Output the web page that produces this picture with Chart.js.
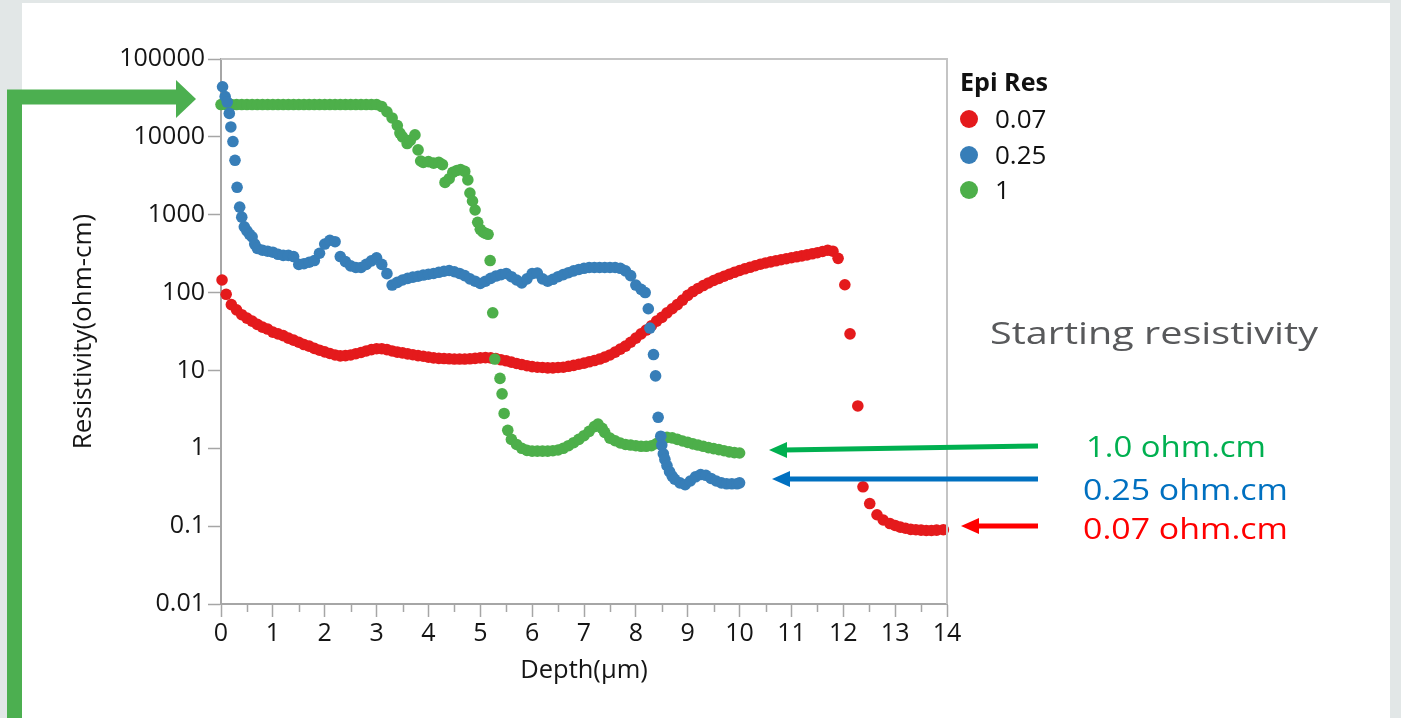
<!DOCTYPE html>
<html>
<head>
<meta charset="utf-8">
<script src="https://cdn.jsdelivr.net/npm/chart.js@4.4.1/dist/chart.umd.min.js"></script>
<style>
  html, body { margin: 0; padding: 0; }
  body { width: 1401px; height: 718px; background: #e2e7e7; position: relative; overflow: hidden; }
  #panel { position: absolute; left: 22px; top: 3px; width: 1368px; height: 715px; background: #fff; }
  #chartBox { position: absolute; left: 0; top: 0; width: 1000px; height: 718px; }
  #overlay { position: absolute; left: 0; top: 0; pointer-events: none; }
</style>
</head>
<body>
<div id="panel"></div>
<div id="chartBox"><canvas id="resChart" width="1000" height="718"></canvas></div>
<svg id="overlay" width="1401" height="718" xmlns="http://www.w3.org/2000/svg">
  <!-- legend -->
  <text x="960" y="91" font-family="Open Sans" font-weight="700" font-size="25" fill="#111" textLength="88" lengthAdjust="spacingAndGlyphs">Epi Res</text>
  <circle cx="969" cy="119" r="9" fill="#e41a1c"/>
  <text x="995" y="128" font-family="Open Sans" font-size="26" fill="#111">0.07</text>
  <circle cx="969" cy="155" r="9" fill="#377eb8"/>
  <text x="995" y="164" font-family="Open Sans" font-size="26" fill="#111">0.25</text>
  <circle cx="969" cy="190" r="9" fill="#4daf4a"/>
  <text x="995" y="199" font-family="Open Sans" font-size="26" fill="#111">1</text>

  <!-- starting resistivity arrow on the left -->
  <polyline points="14.5,718 14.5,97 178,97" fill="none" stroke="#4caf50" stroke-width="15" stroke-linejoin="miter"/>
  <polygon points="176,80 196,99 176,118" fill="#4caf50"/>

  <text x="990" y="344" font-family="Open Sans" font-size="31" fill="#58595b" textLength="328" lengthAdjust="spacingAndGlyphs">Starting resistivity</text>

  <!-- right side arrows and labels -->
  <line x1="1038" y1="446" x2="784" y2="450" stroke="#00b050" stroke-width="5"/>
  <polygon points="769,450 787,442 787,458" fill="#00b050"/>
  <line x1="1038" y1="479" x2="788" y2="479" stroke="#0070c0" stroke-width="5"/>
  <polygon points="772,479 790,471 790,487" fill="#0070c0"/>
  <line x1="1038" y1="526" x2="976" y2="526" stroke="#ff0000" stroke-width="5"/>
  <polygon points="961,526 979,518 979,534" fill="#ff0000"/>

  <text x="1086" y="457" font-family="Open Sans" font-size="29" fill="#00b050" textLength="180" lengthAdjust="spacingAndGlyphs">1.0 ohm.cm</text>
  <text x="1083" y="500" font-family="Open Sans" font-size="29" fill="#0070c0" textLength="205" lengthAdjust="spacingAndGlyphs">0.25 ohm.cm</text>
  <text x="1083" y="539" font-family="Open Sans" font-size="29" fill="#ff0000" textLength="205" lengthAdjust="spacingAndGlyphs">0.07 ohm.cm</text>
</svg>

<script>
// [depth (um), resistivity (ohm-cm)]
const red007 = [
    [0.02,145],[0.1,95],[0.2,70],[0.3,60],[0.4,52],[0.5,47],[0.6,43],[0.7,39],[0.8,36],[0.9,34],
    [1.0,31],[1.1,29.5],[1.2,28],[1.3,26],[1.4,24.5],[1.5,23],[1.6,21.5],[1.7,20.5],[1.8,19.2],[1.9,18.2],
    [2.0,17.3],[2.1,16.5],[2.2,15.8],[2.3,15.4],[2.4,15.5],[2.5,15.8],[2.6,16.4],[2.7,17],[2.8,17.8],[2.9,18.5],
    [3.0,19],[3.1,19],[3.2,18.5],[3.3,17.8],[3.4,17.2],[3.5,16.8],[3.6,16.3],[3.7,15.9],[3.8,15.5],[3.9,15.2],
    [4.0,14.8],[4.1,14.5],[4.2,14.3],[4.3,14.2],[4.4,14.1],[4.5,14],[4.6,14],[4.7,14],[4.8,14.1],[4.9,14.3],
    [5.0,14.5],[5.1,14.6],[5.2,14.5],[5.3,14.2],[5.4,13.7],[5.5,13.3],[5.6,12.8],[5.7,12.3],[5.8,11.9],[5.9,11.5],
    [6.0,11.2],[6.1,11],[6.2,10.9],[6.3,10.8],[6.4,10.8],[6.5,10.9],[6.6,11],[6.7,11.3],[6.8,11.6],[6.9,12],
    [7.0,12.4],[7.1,12.9],[7.2,13.4],[7.3,14],[7.4,14.8],[7.5,15.8],[7.6,17.2],[7.7,18.8],[7.8,20.5],[7.9,23],
    [8.0,26],[8.1,29.5],[8.2,33],[8.3,37.5],[8.4,43],[8.5,48],[8.6,55],[8.7,62],[8.8,70],[8.9,80],
    [9.0,92],[9.1,103],[9.2,113],[9.3,123],[9.4,133],[9.5,143],[9.6,152],[9.7,162],[9.8,172],[9.9,182],
    [10.0,192],[10.1,202],[10.2,211],[10.3,221],[10.4,231],[10.5,240],[10.6,248],[10.7,256],[10.8,264],[10.9,272],
    [11.0,280],[11.1,288],[11.2,296],[11.3,305],[11.4,315],[11.5,325],[11.6,337],[11.7,350],[11.8,340],[11.9,275],
    [12.03,126],[12.13,29.5],[12.28,3.5],[12.38,0.32],[12.51,0.195],[12.65,0.14],[12.77,0.12],[12.9,0.108],
    [13.0,0.102],[13.1,0.097],[13.2,0.094],[13.3,0.091],[13.4,0.09],[13.5,0.089],[13.6,0.088],[13.7,0.088],
    [13.8,0.089],[13.93,0.09]
];

const blue025 = [
    [0.03,44000],[0.08,33000],[0.12,28000],[0.16,20000],[0.19,13400],[0.23,8700],[0.27,5000],[0.31,2250],
    [0.36,1250],[0.4,930],[0.45,700],[0.5,620],[0.55,560],[0.6,520],[0.65,420],[0.7,370],[0.8,350],[0.9,340],
    [1.0,330],[1.1,310],[1.2,300],[1.3,300],[1.4,290],[1.5,230],[1.6,235],[1.7,245],[1.8,258],[1.9,320],
    [2.0,420],[2.1,470],[2.2,450],[2.3,290],[2.4,250],[2.5,220],[2.6,210],[2.7,210],[2.8,230],[2.9,255],
    [3.0,280],[3.1,230],[3.2,175],[3.3,125],[3.4,135],[3.5,145],[3.6,152],[3.7,158],[3.8,162],[3.9,168],
    [4.0,172],[4.1,176],[4.2,182],[4.3,188],[4.4,192],[4.5,185],[4.6,176],[4.7,165],[4.8,150],[4.9,140],
    [5.0,131],[5.1,140],[5.2,152],[5.3,163],[5.4,170],[5.5,176],[5.6,160],[5.7,145],[5.8,133],[5.9,150],
    [6.0,175],[6.1,178],[6.2,150],[6.3,140],[6.4,148],[6.5,160],[6.6,170],[6.7,180],[6.8,190],[6.9,198],
    [7.0,205],[7.1,210],[7.2,210],[7.3,210],[7.4,210],[7.5,210],[7.6,210],[7.7,205],[7.8,190],[7.9,165],
    [8.0,125],[8.1,110],[8.18,100],[8.24,62],[8.27,35],[8.34,16],[8.38,8.5],[8.43,2.5],[8.48,1.43],
    [8.5,1.1],[8.53,0.85],[8.56,0.72],[8.6,0.6],[8.65,0.5],[8.7,0.44],[8.75,0.4],[8.85,0.36],[8.95,0.34],
    [9.05,0.38],[9.15,0.43],[9.25,0.46],[9.35,0.45],[9.45,0.41],[9.55,0.38],[9.65,0.36],[9.75,0.35],
    [9.85,0.35],[9.95,0.35],[10.0,0.36]
];

const green1 = [
    [0.0,26000],[0.1,26000],[0.2,26000],[0.3,26000],[0.4,26000],[0.5,26000],[0.6,26000],[0.7,26000],
    [0.8,26000],[0.9,26000],[1.0,26000],[1.1,26000],[1.2,26000],[1.3,26000],[1.4,26000],[1.5,26000],
    [1.6,26000],[1.7,26000],[1.8,26000],[1.9,26000],[2.0,26000],[2.1,26000],[2.2,26000],[2.3,26000],
    [2.4,26000],[2.5,26000],[2.6,26000],[2.7,26000],[2.8,26000],[2.9,26000],[3.0,26000],
    [3.1,24500],[3.2,21000],[3.3,17500],[3.4,14000],[3.45,11200],[3.5,10000],[3.59,8200],[3.65,9000],
    [3.74,10600],[3.8,6800],[3.85,4900],[3.9,4700],[4.0,4800],[4.1,4600],[4.2,4700],[4.27,4400],
    [4.32,2600],[4.4,2900],[4.47,3500],[4.55,3700],[4.62,3800],[4.7,3600],[4.76,2800],[4.8,1900],
    [4.85,1500],[4.9,1150],[4.95,800],[5.0,650],[5.05,600],[5.1,577],[5.15,560],[5.19,258],[5.24,55],
    [5.28,14],[5.38,7.9],[5.42,5],[5.46,2.8],[5.53,1.7],[5.6,1.3],[5.7,1.12],[5.8,1.0],[5.9,0.94],
    [6.0,0.92],[6.1,0.92],[6.2,0.92],[6.3,0.92],[6.4,0.93],[6.5,0.95],[6.6,1.0],[6.7,1.08],[6.8,1.18],
    [6.9,1.3],[7.0,1.45],[7.1,1.65],[7.2,1.9],[7.27,2.05],[7.35,1.8],[7.4,1.6],[7.5,1.35],[7.6,1.25],
    [7.7,1.17],[7.8,1.12],[7.9,1.1],[8.0,1.08],[8.1,1.06],[8.2,1.06],[8.3,1.08],[8.4,1.15],[8.5,1.3],
    [8.6,1.38],[8.7,1.36],[8.8,1.3],[8.9,1.24],[9.0,1.19],[9.1,1.14],[9.2,1.1],[9.3,1.06],[9.4,1.02],
    [9.5,0.99],[9.6,0.96],[9.7,0.93],[9.8,0.9],[9.9,0.88],[10.0,0.87]
];

const xTicks = [0, 1, 2, 3, 4, 5, 6, 7, 8, 9, 10, 11, 12, 13, 14];
const yTicks = [0.01, 0.1, 1, 10, 100, 1000, 10000, 100000];

const axisFont = 'Open Sans';
const axisGray = '#a6a6a6';

function toPoints(pairs) {
    return pairs.map(p => ({ x: p[0], y: p[1] }));
}

// top/right frame lines and the short half-unit ticks on the depth axis
const framePlugin = {
    id: 'frame',
    afterDraw(chart) {
        const { ctx, chartArea, scales } = chart;
        ctx.save();
        ctx.strokeStyle = '#c4c4c4';
        ctx.lineWidth = 2;
        ctx.beginPath();
        ctx.moveTo(chartArea.left, chartArea.top);
        ctx.lineTo(chartArea.right, chartArea.top);
        ctx.lineTo(chartArea.right, chartArea.bottom);
        ctx.stroke();

        ctx.strokeStyle = axisGray;
        ctx.lineWidth = 1.5;
        ctx.beginPath();
        for (let i = 0; i < xTicks.length - 1; i++) {
            const px = Math.round(scales.x.getPixelForValue(xTicks[i] + 0.5)) + 0.5;
            ctx.moveTo(px, chartArea.bottom);
            ctx.lineTo(px, chartArea.bottom + 8);
        }
        ctx.stroke();
        ctx.restore();
    }
};

const pointStyle = color => ({
    showLine: false,
    pointRadius: 5.8,
    pointHoverRadius: 5.8,
    pointBorderWidth: 0,
    pointBackgroundColor: color,
    backgroundColor: color,
    borderColor: color,
    clip: false
});

new Chart(document.getElementById('resChart'), {
    type: 'scatter',
    data: {
        datasets: [
            Object.assign({ label: '0.25', data: toPoints(blue025), order: 0 }, pointStyle('#377eb8')),
            Object.assign({ label: '1', data: toPoints(green1), order: 1 }, pointStyle('#4daf4a')),
            Object.assign({ label: '0.07', data: toPoints(red007), order: 2 }, pointStyle('#e41a1c'))
        ]
    },
    options: {
        responsive: false,
        animation: false,
        devicePixelRatio: 1,
        layout: { padding: { left: 66, top: 59, right: 53, bottom: 29 } },
        plugins: {
            legend: { display: false },
            tooltip: { enabled: false }
        },
        scales: {
            x: {
                type: 'linear',
                min: 0,
                max: 14,
                afterBuildTicks: scale => { scale.ticks = xTicks.map(v => ({ value: v })); },
                afterFit: scale => { scale.height = 85; },
                ticks: {
                    autoSkip: false,
                    maxRotation: 0,
                    padding: 2,
                    color: '#151515',
                    font: { family: axisFont, size: 25 },
                    callback: v => String(v)
                },
                grid: {
                    drawOnChartArea: false,
                    drawTicks: true,
                    tickLength: 13,
                    tickColor: axisGray,
                    tickWidth: 1.5
                },
                border: { display: true, color: axisGray, width: 2 },
                title: {
                    display: true,
                    text: 'Depth(µm)',
                    color: '#151515',
                    font: { family: axisFont, size: 25.5 },
                    padding: { top: 0, bottom: 3 }
                }
            },
            y: {
                type: 'logarithmic',
                min: 0.01,
                max: 100000,
                afterBuildTicks: scale => { scale.ticks = yTicks.map(v => ({ value: v })); },
                afterFit: scale => { scale.width = 155; },
                ticks: {
                    autoSkip: false,
                    padding: 3,
                    color: '#151515',
                    font: { family: axisFont, size: 25 },
                    callback: v => String(v)
                },
                grid: {
                    drawOnChartArea: false,
                    drawTicks: true,
                    tickLength: 13,
                    tickColor: axisGray,
                    tickWidth: 1.5
                },
                border: { display: true, color: axisGray, width: 2 },
                title: {
                    display: true,
                    text: 'Resistivity(ohm-cm)',
                    color: '#151515',
                    font: { family: axisFont, size: 26 },
                    padding: { top: 2, bottom: 0 }
                }
            }
        }
    },
    plugins: [framePlugin]
});
</script>
</body>
</html>
